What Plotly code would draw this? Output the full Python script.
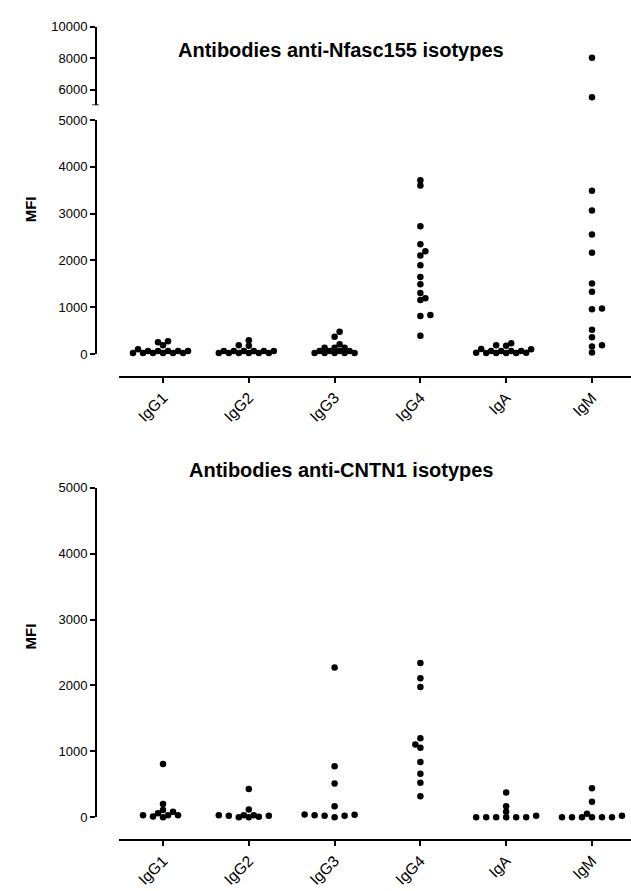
import plotly.graph_objects as go

# ---------------- data ----------------
categories = ["IgG1", "IgG2", "IgG3", "IgG4", "IgA", "IgM"]

# Antibodies anti-Nfasc155 isotypes (MFI)
nf_igg1 = [105, 20, 65, 20, 65, 20, 273, 189, 252, 20, 20, 65, 20, 65, 65]
nf_igg2 = [20, 65, 190, 20, 65, 180, 294, 20, 65, 20, 65, 20, 65, 20, 65]
nf_igg3 = [63, 135, 20, 63, 20, 372, 477, 210, 20, 135, 63, 135, 63, 20, 20]
nf_igg4 = [3712, 3600, 2731, 2346, 2199, 2107, 1897, 1645, 1492, 1303, 1190, 1155, 834, 813, 393]
nf_iga = [30, 63, 190, 20, 63, 20, 180, 230, 63, 105, 20, 110, 30, 63, 20]
nf_igm = [8020, 5520, 3487, 3067, 2556, 2164, 1506, 1330, 973, 960, 519, 357, 189, 161, 35]

# Antibodies anti-CNTN1 isotypes (MFI)
cn_igg1 = [30, 30, 80, 0, 110, 200, 805, 10, 30, 60]
cn_igg2 = [30, 115, 0, 20, 428, 5, 20, 0, 30, 30]
cn_igg3 = [2270, 771, 512, 164, 35, 20, 0, 20, 30, 40]
cn_igg4 = [2340, 2110, 1975, 1199, 1104, 1055, 836, 657, 522, 318]
cn_iga = [0, 0, 20, 0, 80, 164, 373, 0, 0, 0]
cn_igm = [0, 0, 0, 20, 50, 234, 437, 0, 0, 0]

lower_ticks = [0, 1000, 2000, 3000, 4000, 5000]
upper_ticks = [6000, 8000, 10000]
break_value = 5000

# ---------------- layout geometry ----------------
W, H = 631, 891
FONT = "Liberation Sans, Arial, Helvetica, sans-serif"


def py(p):
    return 1 - p / H


def pxx(p):
    return p / W


X_RANGE = [-0.513, 5.455]
X_LEFT_PX = 119
PX_PER_CAT = (W - X_LEFT_PX) / (X_RANGE[1] - X_RANGE[0])

TOP_LOW = (353, 115)     # pixel rows of 0 and 5000
TOP_UP = (100, 20)       # pixel rows of 5000 and 10000
BOT = (824, 489)         # pixel rows of 0 and 5000
YAXIS_X = 96


def swarm_offsets(values, px_per_val, step=5.0, diam=5.2):
    """Prism-like scatter-dot layout on a horizontal grid of half-dot steps."""
    n = len(values)
    order = sorted(range(n), key=lambda i: values[i])
    placed = []
    offs = [0.0] * n
    for i in order:
        yp = values[i] * px_per_val
        k = 0
        found = None
        while found is None:
            if k == 0:
                cands = [0.0]
            else:
                cands = [k * step, -k * step] if len(placed) % 2 == 0 else [-k * step, k * step]
            for c in cands:
                if all((c - a) ** 2 + (yp - b) ** 2 >= diam ** 2 for a, b in placed):
                    found = c
                    break
            k += 1
        placed.append((found, yp))
        offs[i] = found / PX_PER_CAT
    return offs


fig = go.Figure()
marker = dict(color="black", size=6.5, line=dict(width=0))

top_groups = [nf_igg1, nf_igg2, nf_igg3, nf_igg4, nf_iga, nf_igm]
bot_groups = [cn_igg1, cn_igg2, cn_igg3, cn_igg4, cn_iga, cn_igm]

top_low_scale = (TOP_LOW[0] - TOP_LOW[1]) / 5000.0
bot_scale = (BOT[0] - BOT[1]) / 5000.0

lx, ly, ux, uy = [], [], [], []
for ci, vals in enumerate(top_groups):
    low = [v for v in vals if v <= break_value]
    up = [v for v in vals if v > break_value]
    offs = swarm_offsets(low, top_low_scale)
    lx += [ci + o for o in offs]
    ly += low
    ux += [ci] * len(up)
    uy += up

bx, by = [], []
for ci, vals in enumerate(bot_groups):
    offs = swarm_offsets(vals, bot_scale)
    bx += [ci + o for o in offs]
    by += vals

fig.add_trace(go.Scatter(x=lx, y=ly, mode="markers", marker=marker, xaxis="x", yaxis="y",
                         cliponaxis=False, showlegend=False))
fig.add_trace(go.Scatter(x=ux, y=uy, mode="markers", marker=marker, xaxis="x3", yaxis="y2",
                         cliponaxis=False, showlegend=False))
fig.add_trace(go.Scatter(x=bx, y=by, mode="markers", marker=marker, xaxis="x2", yaxis="y3",
                         cliponaxis=False, showlegend=False))

axis_common = dict(showline=True, linecolor="black", linewidth=2, ticks="outside",
                   ticklen=5, tickwidth=1.5, tickcolor="black", showgrid=False,
                   zeroline=False, fixedrange=True)
ytick_font = dict(family=FONT, size=13, color="black")
xtick_font = dict(family=FONT, size=15.5, color="black")

fig.update_layout(
    width=W, height=H,
    margin=dict(l=0, r=0, t=0, b=0),
    paper_bgcolor="white", plot_bgcolor="white",
    font=dict(family=FONT, color="black"),
    xaxis=dict(domain=[pxx(X_LEFT_PX), 1], range=X_RANGE, anchor="free", position=py(376),
               tickvals=list(range(len(categories))), ticktext=categories, tickangle=-45,
               tickfont=xtick_font, **axis_common),
    xaxis2=dict(domain=[pxx(X_LEFT_PX), 1], range=X_RANGE, anchor="free", position=py(847),
                tickvals=list(range(len(categories))), ticktext=categories, tickangle=-45,
                tickfont=xtick_font, **axis_common),
    xaxis3=dict(domain=[pxx(X_LEFT_PX), 1], range=X_RANGE, anchor="y2", visible=False),
    yaxis=dict(domain=[py(TOP_LOW[0]), py(TOP_LOW[1])], range=[0, 5000], anchor="free",
               position=pxx(YAXIS_X), tickvals=lower_ticks, tickformat="d",
               tickfont=ytick_font, **axis_common),
    yaxis2=dict(domain=[py(TOP_UP[0]), py(TOP_UP[1])], range=[5000, 10000], anchor="free",
                position=pxx(YAXIS_X), tickvals=upper_ticks, tickformat="d",
                tickfont=ytick_font, **axis_common),
    yaxis3=dict(domain=[py(BOT[0]), py(BOT[1])], range=[0, 5000], anchor="free",
                position=pxx(YAXIS_X), tickvals=lower_ticks, tickformat="d",
                tickfont=ytick_font, **axis_common),
)

# axis-break end cap on the upper segment
fig.add_shape(type="line", xref="paper", yref="y2", x0=pxx(YAXIS_X - 4), x1=pxx(YAXIS_X + 3),
              y0=break_value, y1=break_value, line=dict(color="black", width=1.5))

title_font = dict(family=FONT, size=20, color="black")
fig.add_annotation(text="<b>Antibodies anti-Nfasc155 isotypes</b>", x=pxx(341), y=py(31),
                   xref="paper", yref="paper", showarrow=False, font=title_font)
fig.add_annotation(text="<b>Antibodies anti-CNTN1 isotypes</b>", x=pxx(341), y=py(471),
                   xref="paper", yref="paper", showarrow=False, font=title_font)
mfi_font = dict(family=FONT, size=15, color="black")
fig.add_annotation(text="<b>MFI</b>", x=pxx(20), y=py(191), xref="paper", yref="paper",
                   showarrow=False, textangle=-90, font=mfi_font)
fig.add_annotation(text="<b>MFI</b>", x=pxx(20), y=py(656), xref="paper", yref="paper",
                   showarrow=False, textangle=-90, font=mfi_font)

fig.write_html("out.html")
